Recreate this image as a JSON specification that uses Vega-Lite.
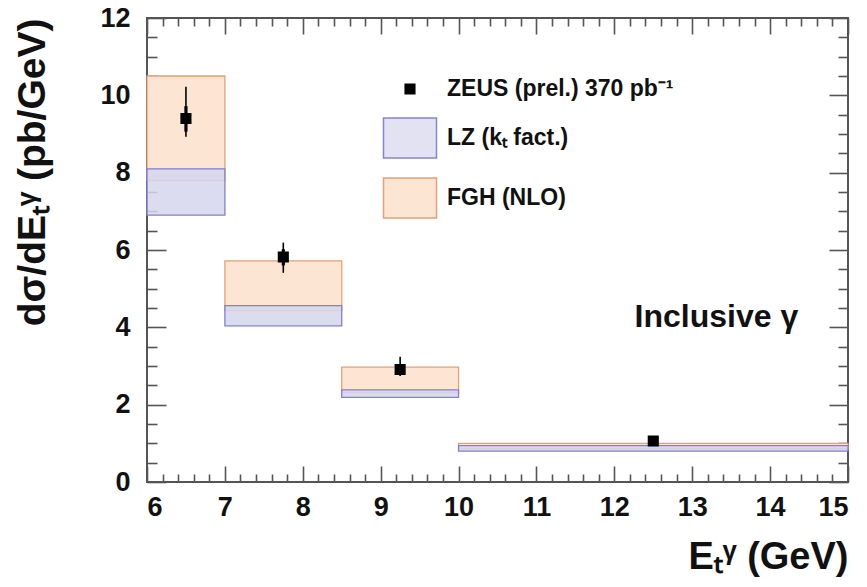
{
  "$schema": "https://vega.github.io/schema/vega-lite/v6.json",
  "width": 701,
  "height": 464,
  "autosize": {"type": "none"},
  "padding": {"left": 147, "top": 18, "right": 19, "bottom": 105},
  "background": "white",
  "config": {
    "font": "Liberation Sans",
    "view": {"stroke": "#555", "strokeWidth": 2},
    "axis": {
      "domain": false,
      "grid": false,
      "labelFont": "Liberation Sans",
      "labelFontWeight": "bold",
      "labelFontSize": 27,
      "labelColor": "#111",
      "tickColor": "#555",
      "tickWidth": 1.6,
      "titleFont": "Liberation Sans",
      "titleFontWeight": "bold",
      "titleColor": "#111"
    }
  },
  "datasets": {
    "theory": [
      {"bin_lo": 6, "bin_hi": 7, "fgh_lo": 7.8, "fgh_hi": 10.5, "lz_lo": 6.9, "lz_hi": 8.1},
      {"bin_lo": 7, "bin_hi": 8.5, "fgh_lo": 4.43, "fgh_hi": 5.72, "lz_lo": 4.04, "lz_hi": 4.56},
      {"bin_lo": 8.5, "bin_hi": 10, "fgh_lo": 2.31, "fgh_hi": 2.97, "lz_lo": 2.19, "lz_hi": 2.38},
      {"bin_lo": 10, "bin_hi": 15, "fgh_lo": 0.86, "fgh_hi": 1.0, "lz_lo": 0.8, "lz_hi": 0.94}
    ],
    "zeus": [
      {"series": "ZEUS (prel.) 370 pb⁻¹", "et": 6.5, "sigma": 9.4, "stat_lo": 9.06, "stat_hi": 9.72, "tot_lo": 8.93, "tot_hi": 10.22},
      {"series": "ZEUS (prel.) 370 pb⁻¹", "et": 7.75, "sigma": 5.82, "stat_lo": 5.6, "stat_hi": 6.02, "tot_lo": 5.41, "tot_hi": 6.19},
      {"series": "ZEUS (prel.) 370 pb⁻¹", "et": 9.25, "sigma": 2.91, "stat_lo": 2.8, "stat_hi": 3.05, "tot_lo": 2.74, "tot_hi": 3.24},
      {"series": "ZEUS (prel.) 370 pb⁻¹", "et": 12.5, "sigma": 1.06, "stat_lo": 1.02, "stat_hi": 1.1, "tot_lo": 1.0, "tot_hi": 1.12}
    ],
    "annotation": [
      {"label": "Inclusive γ"}
    ]
  },
  "resolve": {"axis": {"x": "independent", "y": "independent"}},
  "layer": [
    {
      "data": {"name": "theory"},
      "mark": {"type": "rect", "fill": "#fde5d3", "stroke": "#e6a074", "strokeWidth": 1.3},
      "encoding": {
        "x": {
          "field": "bin_lo", "type": "quantitative",
          "scale": {"domain": [6, 15], "nice": false, "zero": false},
          "axis": {
            "orient": "bottom",
            "values": [6, 7, 8, 9, 10, 11, 12, 13, 14, 15],
            "format": "d",
            "tickSize": -16,
            "labelPadding": 28,
            "title": "Eₜᵞ (GeV)",
            "titleFontSize": 38,
            "titleAnchor": "end",
            "titlePadding": 18
          }
        },
        "x2": {"field": "bin_hi"},
        "y": {
          "field": "fgh_lo", "type": "quantitative",
          "scale": {"domain": [0, 12], "nice": false, "zero": false},
          "axis": {
            "orient": "left",
            "values": [0, 2, 4, 6, 8, 10, 12],
            "format": "d",
            "tickSize": -19,
            "labelPadding": 36,
            "title": "dσ/dEₜᵞ (pb/GeV)",
            "titleFontSize": 39,
            "titleAnchor": "end",
            "titlePadding": 47
          }
        },
        "y2": {"field": "fgh_hi"}
      }
    },
    {
      "data": {"name": "theory"},
      "mark": {"type": "rect", "fill": "#d6d6ee", "fillOpacity": 0.85, "stroke": "#8080cc", "strokeWidth": 1.3},
      "encoding": {
        "x": {
          "field": "bin_lo", "type": "quantitative",
          "scale": {"domain": [6, 15], "nice": false, "zero": false},
          "axis": {
            "orient": "bottom",
            "values": [6.2, 6.4, 6.6, 6.8, 7.2, 7.4, 7.6, 7.8, 8.2, 8.4, 8.6, 8.8, 9.2, 9.4, 9.6, 9.8, 10.2, 10.4, 10.6, 10.8, 11.2, 11.4, 11.6, 11.8, 12.2, 12.4, 12.6, 12.8, 13.2, 13.4, 13.6, 13.8, 14.2, 14.4, 14.6, 14.8],
            "labels": false,
            "tickSize": -8,
            "title": null
          }
        },
        "x2": {"field": "bin_hi"},
        "y": {
          "field": "lz_lo", "type": "quantitative",
          "scale": {"domain": [0, 12], "nice": false, "zero": false},
          "axis": {
            "orient": "left",
            "values": [0.5, 1, 1.5, 2.5, 3, 3.5, 4.5, 5, 5.5, 6.5, 7, 7.5, 8.5, 9, 9.5, 10.5, 11, 11.5],
            "labels": false,
            "tickSize": -10,
            "title": null
          }
        },
        "y2": {"field": "lz_hi"}
      }
    },
    {
      "data": {"name": "zeus"},
      "mark": {"type": "rule", "color": "#000", "strokeWidth": 1.6},
      "encoding": {
        "x": {
          "field": "et", "type": "quantitative",
          "scale": {"domain": [6, 15], "nice": false, "zero": false},
          "axis": {
            "orient": "top",
            "values": [6, 7, 8, 9, 10, 11, 12, 13, 14, 15],
            "labels": false,
            "tickSize": -16,
            "title": null
          }
        },
        "y": {
          "field": "tot_lo", "type": "quantitative",
          "scale": {"domain": [0, 12], "nice": false, "zero": false},
          "axis": {
            "orient": "right",
            "values": [0, 2, 4, 6, 8, 10, 12],
            "labels": false,
            "tickSize": -19,
            "title": null
          }
        },
        "y2": {"field": "tot_hi"}
      }
    },
    {
      "data": {"name": "zeus"},
      "mark": {"type": "rule", "color": "#000", "strokeWidth": 3.2},
      "encoding": {
        "x": {
          "field": "et", "type": "quantitative",
          "scale": {"domain": [6, 15], "nice": false, "zero": false},
          "axis": {
            "orient": "top",
            "values": [6.2, 6.4, 6.6, 6.8, 7.2, 7.4, 7.6, 7.8, 8.2, 8.4, 8.6, 8.8, 9.2, 9.4, 9.6, 9.8, 10.2, 10.4, 10.6, 10.8, 11.2, 11.4, 11.6, 11.8, 12.2, 12.4, 12.6, 12.8, 13.2, 13.4, 13.6, 13.8, 14.2, 14.4, 14.6, 14.8],
            "labels": false,
            "tickSize": -8,
            "title": null
          }
        },
        "y": {
          "field": "stat_lo", "type": "quantitative",
          "scale": {"domain": [0, 12], "nice": false, "zero": false},
          "axis": {
            "orient": "right",
            "values": [0.5, 1, 1.5, 2.5, 3, 3.5, 4.5, 5, 5.5, 6.5, 7, 7.5, 8.5, 9, 9.5, 10.5, 11, 11.5],
            "labels": false,
            "tickSize": -10,
            "title": null
          }
        },
        "y2": {"field": "stat_hi"}
      }
    },
    {
      "data": {"name": "zeus"},
      "mark": {"type": "point", "filled": true, "opacity": 1, "strokeWidth": 1.5, "size": 1600},
      "encoding": {
        "x": {"field": "et", "type": "quantitative", "scale": {"domain": [6, 15], "nice": false, "zero": false}, "axis": null},
        "y": {"field": "sigma", "type": "quantitative", "scale": {"domain": [0, 12], "nice": false, "zero": false}, "axis": null},
        "fill": {
          "field": "series", "type": "nominal",
          "scale": {"domain": ["ZEUS (prel.) 370 pb⁻¹", "LZ (kₜ fact.)", "FGH (NLO)"], "range": ["#000000", "#e2e2f3", "#fde5d3"]},
          "legend": {
            "title": null,
            "orient": "none",
            "legendX": 242,
            "legendY": 50,
            "padding": 0,
            "symbolSize": 1600,
            "symbolStrokeWidth": 1.5,
            "symbolOpacity": 1,
            "labelFont": "Liberation Sans",
            "labelFontWeight": "bold",
            "labelFontSize": 23,
            "labelColor": "#111",
            "labelOffset": 16,
            "labelLimit": 400,
            "rowPadding": 14
          }
        },
        "stroke": {
          "field": "series", "type": "nominal",
          "scale": {"domain": ["ZEUS (prel.) 370 pb⁻¹", "LZ (kₜ fact.)", "FGH (NLO)"], "range": ["#000000", "#8585cf", "#e6a074"]}
        },
        "shape": {
          "field": "series", "type": "nominal",
          "scale": {"domain": ["ZEUS (prel.) 370 pb⁻¹", "LZ (kₜ fact.)", "FGH (NLO)"], "range": ["M-0.24,-0.24H0.24V0.24H-0.24Z", "M-1.325,-1H1.325V1H-1.325Z", "M-1.325,-1H1.325V1H-1.325Z"]}
        }
      }
    },
    {
      "data": {"name": "annotation"},
      "mark": {"type": "text", "align": "left", "baseline": "alphabetic", "font": "Liberation Sans", "fontWeight": "bold", "fontSize": 32, "color": "#111"},
      "encoding": {
        "text": {"field": "label"},
        "x": {"datum": 12.26, "type": "quantitative", "scale": {"domain": [6, 15], "nice": false, "zero": false}, "axis": null},
        "y": {"datum": 4.0, "type": "quantitative", "scale": {"domain": [0, 12], "nice": false, "zero": false}, "axis": null}
      }
    }
  ]
}
